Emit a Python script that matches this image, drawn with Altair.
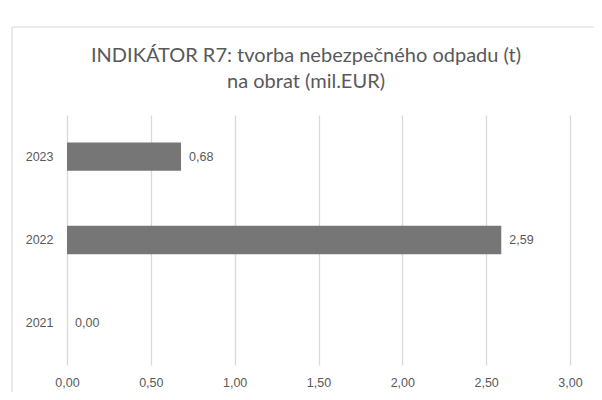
import altair as alt
import pandas as pd

years = ["2023", "2022", "2021"]
values = [0.68, 2.59, 0.00]
x_ticks = [0.0, 0.5, 1.0, 1.5, 2.0, 2.5, 3.0]
title_lines = ["INDIKÁTOR R7: tvorba nebezpečného odpadu (t)", "na obrat (mil.EUR)"]

df = pd.DataFrame({"rok": years, "hodnota": values})

GRAY_TXT = "#595959"
BAR = "#767676"
LBL = 12.5

y_enc = alt.Y(
    "rok:N",
    sort=years,
    title=None,
    scale=alt.Scale(paddingInner=0.66, paddingOuter=0.33),
    axis=alt.Axis(domain=False, ticks=False, labelPadding=14, labelFontSize=LBL,
                  labelColor=GRAY_TXT, labelFont="Liberation Sans", grid=False),
)
x_enc = alt.X(
    "hodnota:Q",
    title=None,
    scale=alt.Scale(domain=[0, 3], nice=False),
    axis=alt.Axis(values=x_ticks, domain=False, ticks=False, labelPadding=11,
                  labelFlush=False, labelFontSize=LBL, labelColor=GRAY_TXT,
                  labelFont="Liberation Sans", gridColor="#d9d9d9", gridWidth=1.3,
                  labelExpr="replace(format(datum.value, '.2f'), '.', ',')"),
)

base = alt.Chart(df)

bars = base.mark_bar(color=BAR).encode(y=y_enc, x=x_enc)

labels = base.transform_calculate(
    lab="replace(format(datum.hodnota, '.2f'), '.', ',')"
).mark_text(align="left", baseline="middle", dx=8, fontSize=LBL,
            color=GRAY_TXT, font="Liberation Sans").encode(
    y=alt.Y("rok:N", sort=years), x="hodnota:Q", text="lab:N"
)

one = pd.DataFrame({"a": [0]})
frame_left = alt.Chart(one).mark_rule(color="#d9d9d9", strokeWidth=1.2).encode(
    x=alt.value(-55), y=alt.value(-88), y2=alt.value(277)
)
frame_top = alt.Chart(one).mark_rule(color="#d9d9d9", strokeWidth=1.2).encode(
    x=alt.value(-55), x2=alt.value(527), y=alt.value(-88)
)

title_style = dict(font="Lato", fontSize=20, color=GRAY_TXT, align="center",
                   baseline="alphabetic")
title1 = alt.Chart(one).mark_text(**title_style).encode(
    x=alt.value(239), y=alt.value(-53), text=alt.value(title_lines[0])
)
title2 = alt.Chart(one).mark_text(**title_style).encode(
    x=alt.value(239), y=alt.value(-27), text=alt.value(title_lines[1])
)

chart = alt.layer(frame_left, frame_top, title1, title2, bars, labels).properties(
    width=503,
    height=250,
    padding={"left": 59, "top": 107, "right": 24, "bottom": 27},
    autosize=alt.AutoSizeParams(type="none"),
).configure_view(stroke=None)

chart.save("out.html", embed_options={"renderer": "svg", "actions": False})
